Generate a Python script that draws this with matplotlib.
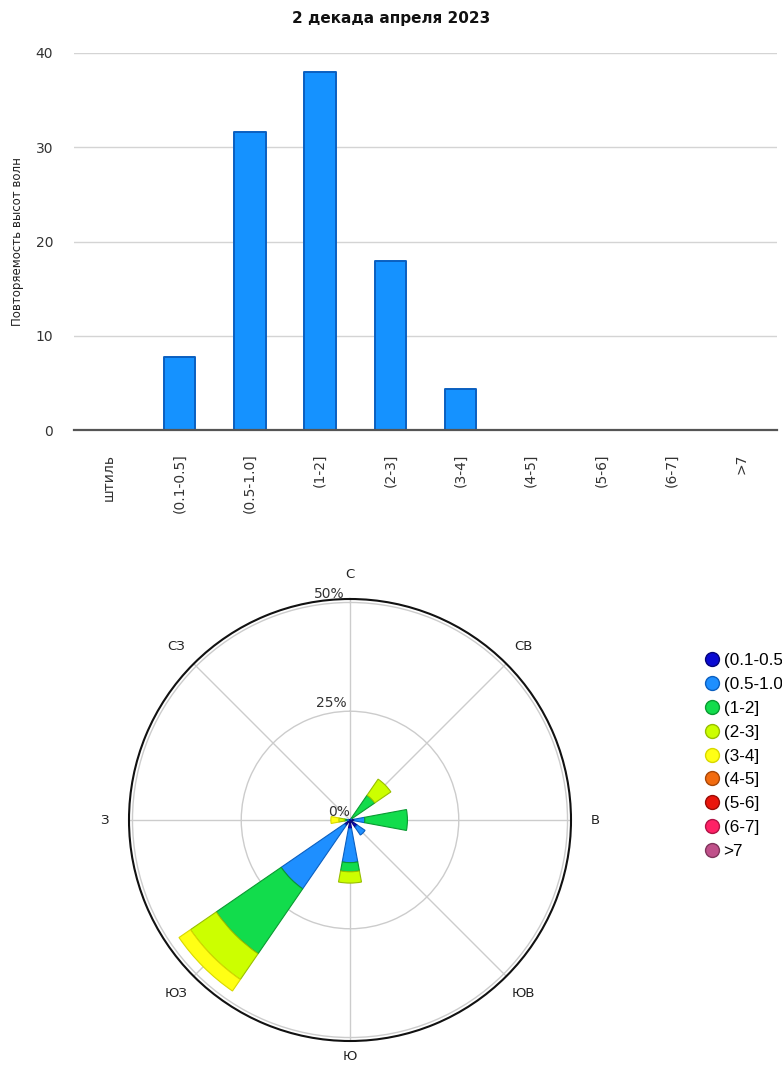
import numpy as np
import matplotlib.pyplot as plt
from matplotlib.lines import Line2D

# --- данные: повторяемость высот волн, %
height_bins = ["штиль", "(0.1-0.5]", "(0.5-1.0]", "(1-2]", "(2-3]", "(3-4]",
               "(4-5]", "(5-6]", "(6-7]", ">7"]
height_freq = [0.0, 7.7, 31.6, 38.0, 17.9, 4.3, 0.0, 0.0, 0.0, 0.0]

# --- роза: направления и вклад каждой градации высоты, %
directions = ["С", "СВ", "В", "ЮВ", "Ю", "ЮЗ", "З", "СЗ"]
rose_bins = ["(0.1-0.5]", "(0.5-1.0]", "(1-2]", "(2-3]", "(3-4]",
             "(4-5]", "(5-6]", "(6-7]", ">7"]
rose_01_05 = [0.0, 0.3, 1.0, 2.0, 2.0, 1.5, 0.3, 0.0]
rose_05_10 = [0.0, 0.3, 2.4, 2.2, 7.8, 17.7, 0.5, 0.0]
rose_1_2 = [0.0, 6.3, 9.8, 0.0, 2.1, 18.1, 0.5, 0.0]
rose_2_3 = [0.0, 4.5, 0.0, 0.0, 2.6, 7.2, 1.3, 0.0]
rose_3_4 = [0.0, 0.0, 0.0, 0.0, 0.0, 3.2, 1.8, 0.0]
rose_4_5 = [0.0] * 8
rose_5_6 = [0.0] * 8
rose_6_7 = [0.0] * 8
rose_7 = [0.0] * 8

bin_colors = ["#0a0ad2", "#1e8fff", "#12dc4c", "#ccff00", "#ffff14",
              "#f26b0f", "#ea150c", "#ff2166", "#c0508a"]
bin_edges = ["#05057a", "#0b5fc0", "#0a9a32", "#98bf00", "#d8d800",
             "#a84808", "#9a0c06", "#b01446", "#80355c"]

plt.rcParams["font.family"] = ["DejaVu Sans"]

fig = plt.figure(figsize=(7.82, 10.65), dpi=100)

# ---------- гистограмма ----------
ax = fig.add_axes([74 / 782, 1 - 430 / 1065, 703 / 782, 377 / 1065])
x = np.arange(len(height_bins))
ax.bar(x, height_freq, width=0.45, color="#1592ff", edgecolor="#0a5fc0",
       linewidth=1.4, joinstyle="round", zorder=3)
ax.set_xlim(-0.5, len(height_bins) - 0.5)
ax.set_ylim(0, 40)
ax.set_yticks([0, 10, 20, 30, 40])
ax.set_xticks(x)
ax.set_xticklabels(height_bins, rotation=90, va="top")
ax.tick_params(axis="x", length=0, pad=17, labelsize=10, colors="#333333")
ax.tick_params(axis="y", length=0, pad=15, labelsize=10, colors="#333333")
ax.grid(axis="y", color="#d4d4d4", linewidth=1, zorder=0)
for side in ["top", "right", "left"]:
    ax.spines[side].set_visible(False)
ax.spines["bottom"].set_color("#555555")
ax.spines["bottom"].set_linewidth(1.6)
ax.spines["bottom"].set_zorder(4)
ax.set_ylabel("Повторяемость высот волн", fontsize=8.5, color="#222222",
              labelpad=8)
fig.text(0.5, 1 - 18 / 1065, "2 декада апреля 2023", ha="center",
         va="center", fontsize=11, fontweight="bold", color="#111111")

# ---------- роза ----------
R = 221
pax = fig.add_axes([(350 - R) / 782, (1065 - 820 - R) / 1065,
                    2 * R / 782, 2 * R / 1065], projection="polar")
pax.set_theta_zero_location("N")
pax.set_theta_direction(-1)
theta = np.radians(np.arange(0, 360, 45))
width = np.radians(21)
rose_data = [rose_01_05, rose_05_10, rose_1_2, rose_2_3, rose_3_4,
             rose_4_5, rose_5_6, rose_6_7, rose_7]
bottom = np.zeros(len(directions))
for vals, col, ecol in zip(rose_data, bin_colors, bin_edges):
    vals = np.array(vals)
    mask = vals > 0
    if mask.any():
        pax.bar(theta[mask], vals[mask], width=width, bottom=bottom[mask],
                color=col, edgecolor=ecol, linewidth=0.8, zorder=3)
    bottom += vals

pax.set_ylim(0, 50.8)
pax.set_yticks([25, 50])
pax.set_yticklabels([])
pax.set_xticks(theta)
pax.set_xticklabels([])
pax.grid(color="#cccccc", linewidth=1)
pax.spines["polar"].set_color("#111111")
pax.spines["polar"].set_linewidth(1.5)
label_r = [56.5, 56.5, 56.5, 56.5, 54.3, 56.5, 56.5, 56.5]
for t, name, r in zip(theta, directions, label_r):
    pax.text(t, r, name, ha="center", va="center", fontsize=9.5,
             color="#222222", clip_on=False)
for r, lab in zip([0, 25, 50], ["0%", "25%", "50%"]):
    pax.text(np.radians(-1.5), r + 0.3, lab, ha="right", va="bottom",
             fontsize=10, color="#333333", clip_on=False, zorder=5)

# ---------- легенда ----------
handles = [Line2D([], [], ls="", marker="o", markersize=10,
                  markerfacecolor=c, markeredgecolor=e, markeredgewidth=1)
           for c, e in zip(bin_colors, bin_edges)]
fig.legend(handles, rose_bins, loc="upper left",
           bbox_to_anchor=(0.899, 1 - 653 / 1065), frameon=False,
           prop={"family": "Liberation Sans", "size": 12.3},
           labelspacing=0.52, handletextpad=0.2, handlelength=1.0,
           borderaxespad=0, borderpad=0)

fig.savefig("out.png", dpi=100)
